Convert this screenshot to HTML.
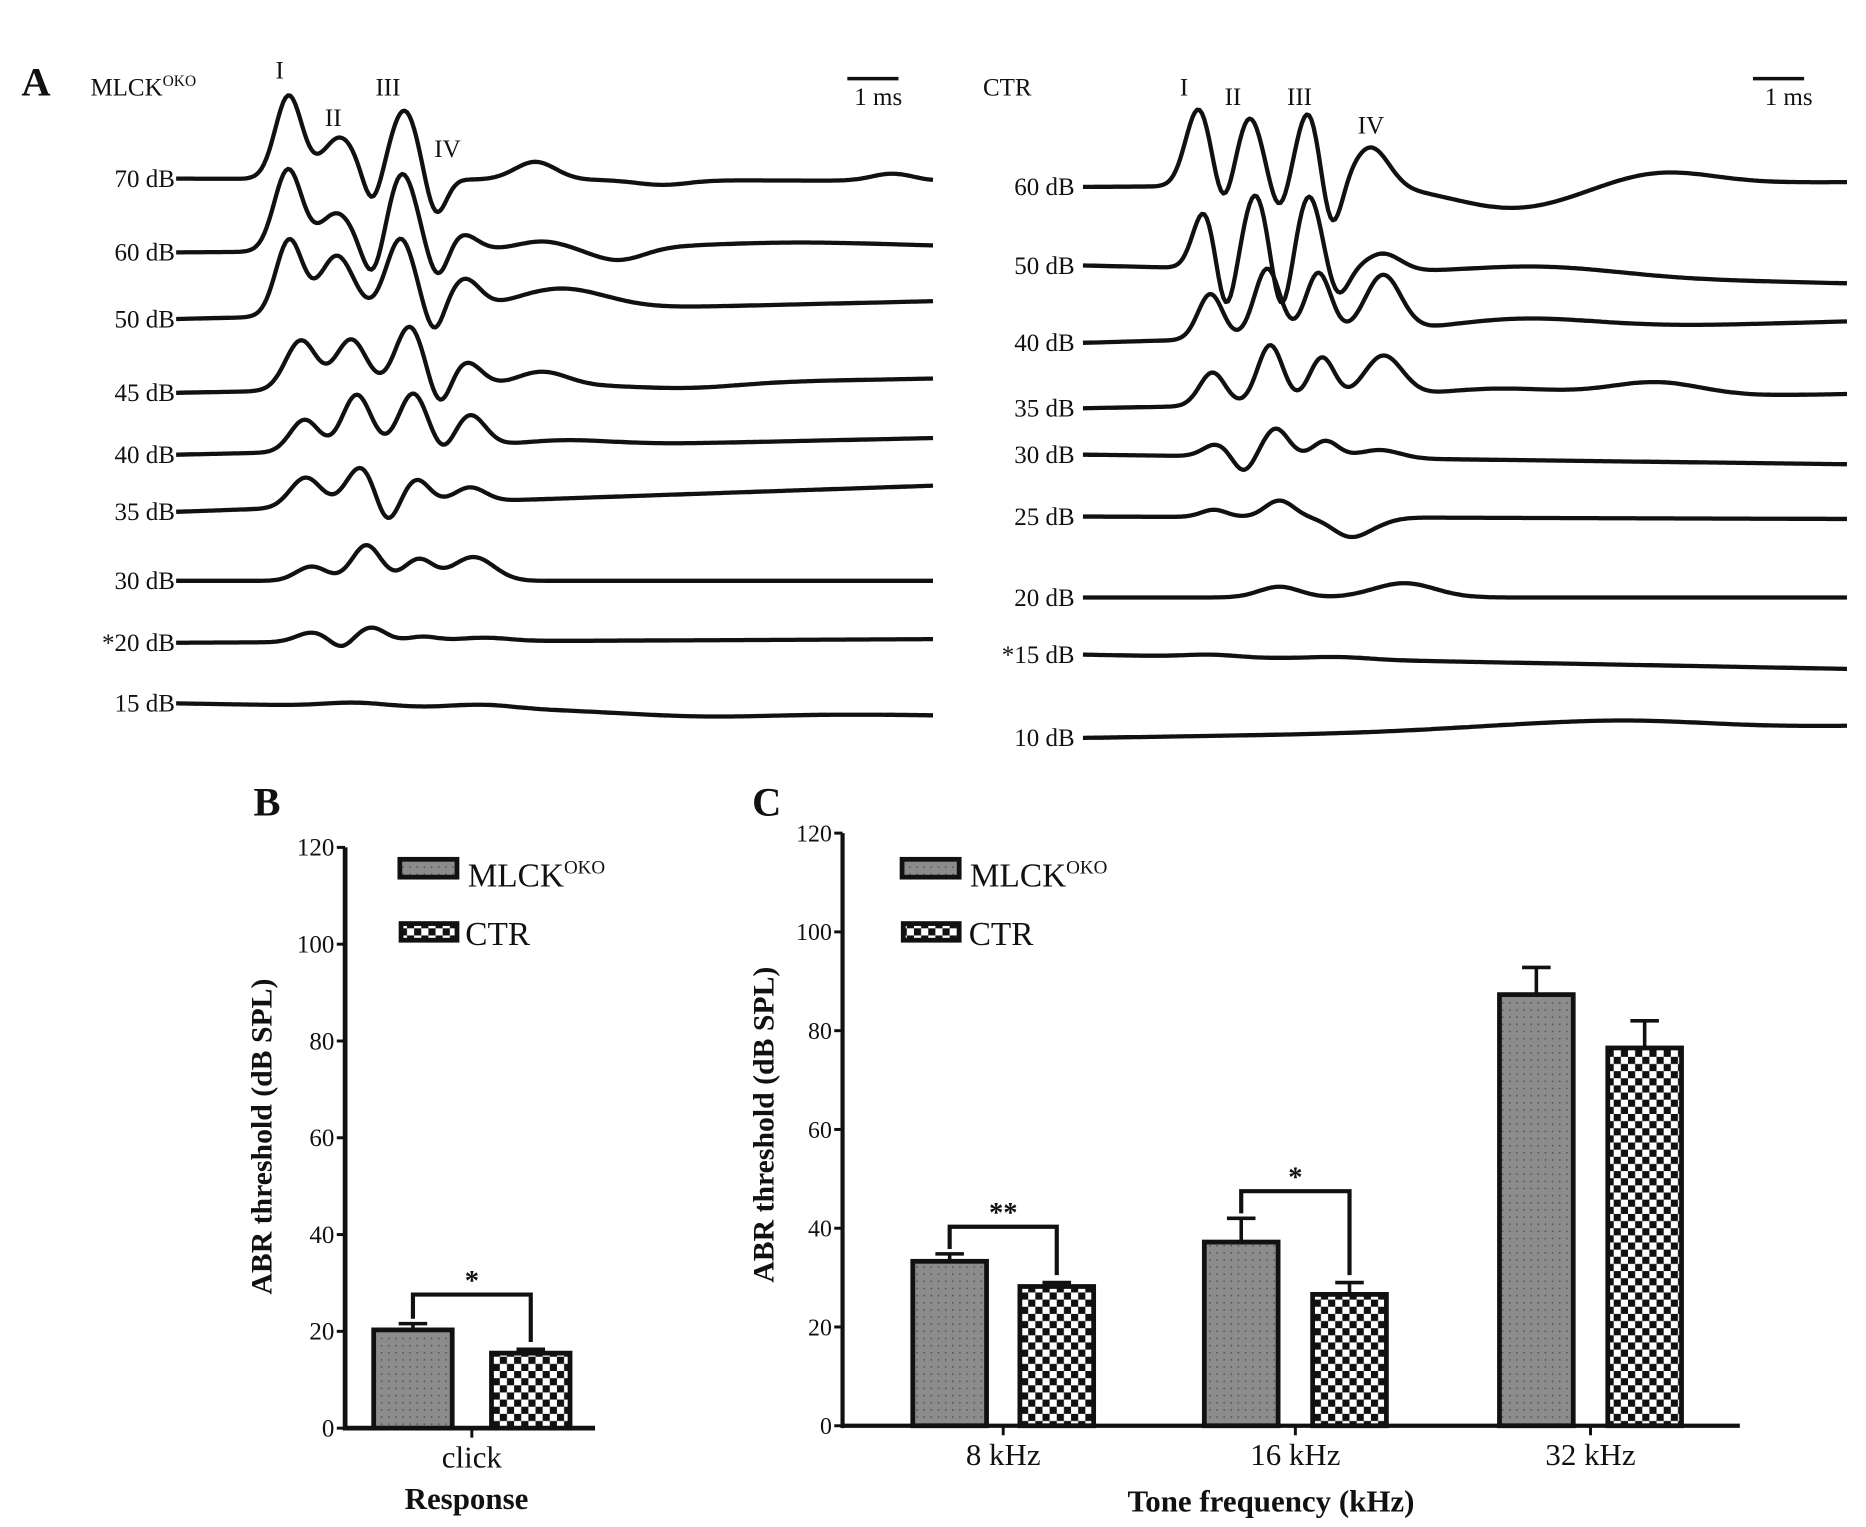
<!DOCTYPE html>
<html><head><meta charset="utf-8"><style>
html,body{margin:0;padding:0;background:#fff}
svg{display:block}
text{font-family:"Liberation Serif",serif;fill:#111}
</style></head><body>
<svg id="fig" width="1866" height="1527" viewBox="0 0 1568 1283" xmlns="http://www.w3.org/2000/svg">
<defs>
<pattern id="dots" width="6" height="6" patternUnits="userSpaceOnUse"><rect width="6" height="6" fill="#8c8c8c"/><rect x="2" y="2" width="1.3" height="1.3" fill="#555"/></pattern>
<pattern id="checks" width="12" height="12" patternUnits="userSpaceOnUse"><rect width="12" height="12" fill="#fff"/><rect width="6" height="6" fill="#111"/><rect x="6" y="6" width="6" height="6" fill="#111"/></pattern>
</defs>
<g id="panelA"></g>
<g id="panelB"></g>
<g id="panelC"></g>
</svg>
<script>
// ---------- Panel A data: trace labels, baselines, features [latency ms, amplitude, width ms]
const leftLabels=["70 dB","60 dB","50 dB","45 dB","40 dB","35 dB","30 dB","*20 dB","15 dB"];
const leftBase=[150,212,268,330,382,430,488,540,591];
const leftDrift=[2,-4,-15,-12,-14,-22,0,-3,10];
const leftFeatures=[
 [[2.2,70,.26],[3.2,35,.33],[3.83,-25,.18],[4.46,58,.28],[5.07,-32,.2],[7.02,15,.4],[9.5,-4,.5],[14.0,6,.4]],
 [[2.19,69,.27],[3.14,32,.33],[3.84,-26,.2],[4.42,65,.28],[5.12,-26,.2],[5.58,14,.3],[7.14,7,.5],[8.65,-10,.5],[12,5,2]],
 [[2.21,64,.26],[3.14,50,.33],[4.05,4,.2],[4.395,62,.27],[5.05,-20,.18],[5.63,26,.3],[7.49,18,.9]],
 [[2.44,42,.3],[3.42,42,.3],[4.56,52,.28],[5.16,-20,.2],[5.67,21,.3],[7.14,12,.5],[10,-4,1]],
 [[2.51,27,.28],[3.53,47,.28],[4.63,47,.28],[5.23,-8,.2],[5.74,27,.3],[7.5,5,1]],
 [[2.53,25,.3],[3.6,32,.28],[4.12,-18,.2],[4.7,20,.25],[5.74,12,.3]],
 [[2.65,12,.3],[3.72,30,.28],[4.74,18,.28],[5.81,20,.4]],
 [[2.65,8,.3],[3.23,-6,.2],[3.81,12,.28],[4.81,4,.3],[6,3,.5]],
 [[3.5,3,.6],[6,3,.6],[10.2,-4,1.5]]
];
const rightLabels=["60 dB","50 dB","40 dB","35 dB","30 dB","25 dB","20 dB","*15 dB","10 dB"];
const rightBase=[157,223,288,343,382,434,502,550,620];
const rightDrift=[-4,15,-18,-12,8,2,0,12,-10];
const rightFeatures=[
 [[2.26,65,.25],[2.74,-23,.18],[3.26,57,.25],[3.84,-23,.18],[4.42,64,.25],[4.84,-45,.2],[5.63,33,.35],[8.42,-20,1.2],[11.3,10,1]],
 [[2.37,48,.22],[2.79,-39,.18],[3.37,63,.24],[3.88,-39,.18],[4.42,63,.24],[4.98,-22,.2],[5.86,15,.35],[9,8,1.5]],
 [[2.49,38,.24],[3.6,58,.25],[4.6,53,.25],[5.86,48,.35],[8.5,10,1.5]],
 [[2.53,28,.25],[3.66,50,.25],[4.67,38,.25],[5.86,36,.38],[8,10,1.5],[11.2,12,.9]],
 [[2.6,10,.25],[3.14,-13,.2],[3.77,24,.25],[4.74,14,.25],[5.8,7,.4]],
 [[2.56,6,.25],[3.84,14,.28],[5.23,-16,.35],[5.8,-3,.3]],
 [[3.84,9,.4],[6.28,12,.6]],
 [[2.5,2,.5],[5,2,.6]],
 [[9,5,2],[11,4,1.5]]
];
// ---------- Panel B data
const bCats=["click"];
const bMLCK=[20.3];
const bMLCKerr=[1.3];
const bCTR=[15.5];
const bCTRerr=[0.8];
const bTicks=[0,20,40,60,80,100,120];
// ---------- Panel C data
const cCats=["8 kHz","16 kHz","32 kHz"];
const cMLCK=[33.3,37.2,87.3];
const cMLCKerr=[1.5,4.8,5.5];
const cCTR=[28.2,26.6,76.5];
const cCTRerr=[0.8,2.4,5.5];
const cTicks=[0,20,40,60,80,100,120];
const cSig=["**","*",""];

const NS="http://www.w3.org/2000/svg";
function mk(parent,tag,attrs,txt){const e=document.createElementNS(NS,tag);for(const k in attrs)e.setAttribute(k,attrs[k]);if(txt!==undefined)e.textContent=txt;parent.appendChild(e);return e;}

// ---- Panel A
const A=document.getElementById('panelA');
function traces(x0,x1,msPx,labels,bases,drifts,feats,labX,prefix){
  const T=(x1-x0)/msPx;
  for(let i=0;i<labels.length;i++){
    let d="";
    for(let x=x0;x<=x1;x+=2){
      const t=(x-x0)/msPx;
      let y=bases[i]+drifts[i]*t/T;
      for(const f of feats[i]){const z=(t-f[0])/f[2];y-=f[1]*Math.exp(-z*z/2);}
      d+=(x===x0?"M":"L")+x+","+y.toFixed(1);
    }
    const p=mk(A,'path',{d:d,fill:'none',stroke:'#111','stroke-width':3.6,'stroke-linejoin':'round'});
    
    
    const lab=labels[i];
    const tx=mk(A,'text',{x:labX,y:bases[i]+7,'text-anchor':'end','font-size':21},lab);
    
    
  }
}
traces(148,785,43,leftLabels,leftBase,leftDrift,leftFeatures,147,'mlck');
traces(910,1552,43,rightLabels,rightBase,rightDrift,rightFeatures,903,'ctr');
A.insertAdjacentHTML('beforeend',`
<text x="18" y="80" font-size="34" font-weight="bold">A</text>
<text x="76" y="80" font-size="21">MLCK<tspan font-size="13" dy="-8">OKO</tspan></text>
<text x="235" y="66" font-size="21" text-anchor="middle">I</text>
<text x="280" y="106" font-size="21" text-anchor="middle">II</text>
<text x="326" y="80" font-size="21" text-anchor="middle">III</text>
<text x="376" y="132" font-size="21" text-anchor="middle">IV</text>
<line x1="712" y1="66" x2="755" y2="66" stroke="#111" stroke-width="3"/>
<text x="738" y="88" font-size="21" text-anchor="middle">1 ms</text>
<text x="826" y="80" font-size="21">CTR</text>
<text x="995" y="80" font-size="21" text-anchor="middle">I</text>
<text x="1036" y="88" font-size="21" text-anchor="middle">II</text>
<text x="1092" y="88" font-size="21" text-anchor="middle">III</text>
<text x="1152" y="112" font-size="21" text-anchor="middle">IV</text>
<line x1="1473" y1="66" x2="1516" y2="66" stroke="#111" stroke-width="3"/>
<text x="1503" y="88" font-size="21" text-anchor="middle">1 ms</text>`);

// ---- Bar chart helper
function barChart(G,opt){
  const y=v=>opt.y0-(v/120)*(opt.y0-opt.y120);
  mk(G,'line',{x1:opt.ax,y1:opt.y120,x2:opt.ax,y2:opt.y0+2,stroke:'#111','stroke-width':opt.axw});
  mk(G,'line',{x1:opt.ax,y1:opt.y0,x2:opt.axEnd,y2:opt.y0,stroke:'#111','stroke-width':opt.axw});
  for(const t of opt.ticks){
    const l=mk(G,'line',{x1:opt.ax-7,y1:y(t),x2:opt.ax,y2:y(t),stroke:'#111','stroke-width':2.5});
    
    const tx=mk(G,'text',{x:opt.ax-9,y:y(t)+7,'text-anchor':'end','font-size':opt.fs},String(t));
    
  }
  opt.cats.forEach((c,i)=>{
    const series=[[opt.m[i],opt.me[i],opt.mx[i],'url(#dots)','mlck'],[opt.c[i],opt.ce[i],opt.cx[i],'url(#checks)','ctr']];
    for(const s of series){
      const [v,e,x,fill,nm]=s;
      const el=mk(G,'line',{x1:x+opt.bw/2,y1:y(v),x2:x+opt.bw/2,y2:y(v+e),stroke:'#111','stroke-width':3});
      
      const cap=mk(G,'line',{x1:x+opt.bw/2-12,y1:y(v+e),x2:x+opt.bw/2+12,y2:y(v+e),stroke:'#111','stroke-width':3});
      
      const r=mk(G,'rect',{x:x,y:y(v),width:opt.bw,height:y(0)-y(v),fill:fill,stroke:'#111','stroke-width':4});
      
    }
    const cx=(opt.mx[i]+opt.cx[i]+opt.bw)/2;
    const tk=mk(G,'line',{x1:cx,y1:opt.y0,x2:cx,y2:opt.y0+8,stroke:'#111','stroke-width':2.5});
    
    const lb=mk(G,'text',{x:cx,y:opt.y0+33,'text-anchor':'middle','font-size':opt.xfs},c);
    
    if(opt.sig[i]){
      const a=opt.mx[i]+opt.bw/2,b=opt.cx[i]+opt.bw/2;
      const top=Math.max(opt.m[i]+opt.me[i],opt.c[i]+opt.ce[i])+opt.gap;
      const br=mk(G,'path',{d:`M${a},${y(opt.m[i]+opt.me[i]+1)}V${y(top)}H${b}V${y(opt.c[i]+opt.ce[i]+1.5)}`,fill:'none',stroke:'#111','stroke-width':3.5});
      
      const st=mk(G,'text',{x:(a+b)/2,y:y(top)-4,'text-anchor':'middle','font-size':24,'font-weight':'bold'},opt.sig[i]);
      
    }
  });
}
// ---- Panel B
const B=document.getElementById('panelB');
barChart(B,{ax:290,axEnd:500,y0:1200,y120:712,axw:4,ticks:bTicks,fs:21,xfs:26,cats:bCats,m:bMLCK,me:bMLCKerr,c:bCTR,ce:bCTRerr,mx:[314],cx:[413],bw:66,sig:["*"],gap:6});
B.insertAdjacentHTML('beforeend',`
<text x="213" y="685" font-size="34" font-weight="bold">B</text>
<text transform="translate(228,955) rotate(-90)" text-anchor="middle" font-size="25" font-weight="bold">ABR threshold (dB SPL)</text>
<text x="392" y="1268" text-anchor="middle" font-size="26" font-weight="bold">Response</text>
<rect x="336" y="722" width="48" height="15" fill="url(#dots)" stroke="#111" stroke-width="4"/>
<text x="393" y="745" font-size="28">MLCK<tspan font-size="16" dy="-11">OKO</tspan></text>
<rect x="337" y="776" width="47" height="14" fill="url(#checks)" stroke="#111" stroke-width="4"/>
<text x="391" y="794" font-size="28">CTR</text>`);
// ---- Panel C
const C=document.getElementById('panelC');
barChart(C,{ax:708,axEnd:1462,y0:1198,y120:700,axw:3.5,ticks:cTicks,fs:20,xfs:26,cats:cCats,m:cMLCK,me:cMLCKerr,c:cCTR,ce:cCTRerr,mx:[767,1012,1260],cx:[857,1103,1351],bw:62,sig:cSig,gap:5.5});
C.insertAdjacentHTML('beforeend',`
<text x="632" y="685" font-size="34" font-weight="bold">C</text>
<text transform="translate(650,945) rotate(-90)" text-anchor="middle" font-size="25" font-weight="bold">ABR threshold (dB SPL)</text>
<text x="1068" y="1270" text-anchor="middle" font-size="26" font-weight="bold">Tone frequency (kHz)</text>
<rect x="758" y="722" width="48" height="15" fill="url(#dots)" stroke="#111" stroke-width="4"/>
<text x="815" y="745" font-size="28">MLCK<tspan font-size="16" dy="-11">OKO</tspan></text>
<rect x="759" y="776" width="47" height="14" fill="url(#checks)" stroke="#111" stroke-width="4"/>
<text x="814" y="794" font-size="28">CTR</text>`);
</script>
</body></html>
